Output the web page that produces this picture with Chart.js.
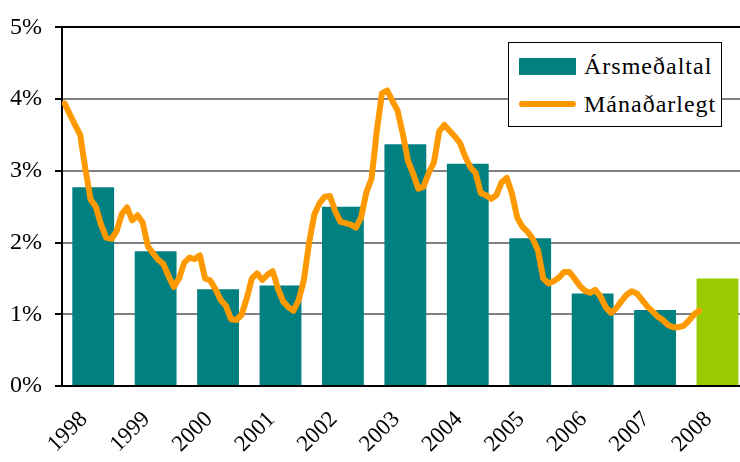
<!DOCTYPE html>
<html>
<head>
<meta charset="utf-8">
<script src="https://cdn.jsdelivr.net/npm/chart.js@4"></script>
<style>
  html, body { margin: 0; padding: 0; background: #fff; overflow: hidden; }
  #wrap { position: relative; width: 749px; height: 462px; }
  #legend {
    position: absolute; left: 508px; top: 42px; width: 212px; height: 83px;
    border: 1px solid #000; background: #fff;
    font-family: 'Liberation Serif', serif; font-size: 24px; letter-spacing: 1px;
  }
  .item { position: absolute; left: 10px; height: 30px; display: flex; align-items: center; }
  .swatch { width: 57px; height: 17px; margin-right: 8px; }
  .dash { width: 57px; height: 6px; border-radius: 3px; margin-right: 8px; }
</style>
</head>
<body>
<div id="wrap">
  <canvas id="chart" width="749" height="462"></canvas>
  <div id="legend">
    <div class="item" style="top:8px"><div class="swatch" style="background:#008080"></div>Ársmeðaltal</div>
    <div class="item" style="top:46px"><div class="dash" style="background:#FF9900"></div>Mánaðarlegt</div>
  </div>
</div>
<script>
// --- data ---
const years = ['1998', '1999', '2000', '2001', '2002', '2003', '2004', '2005', '2006', '2007', '2008'];
const yearlyAvg = [2.77, 1.88, 1.35, 1.40, 2.50, 3.37, 3.10, 2.06, 1.29, 1.06, 1.50];
const barColors = ['#008080', '#008080', '#008080', '#008080', '#008080', '#008080', '#008080', '#008080', '#008080', '#008080', '#99CC00'];
// monthly values, Jan 1998 onwards
const monthly = [
  3.94, 3.79, 3.64, 3.50, 3.02, 2.60, 2.50, 2.25, 2.07, 2.05, 2.16, 2.40,
  2.49, 2.31, 2.38, 2.28, 1.95, 1.85, 1.76, 1.70, 1.53, 1.38, 1.50, 1.72,
  1.79, 1.77, 1.82, 1.50, 1.47, 1.35, 1.20, 1.12, 0.93, 0.92, 0.99, 1.22,
  1.50, 1.57, 1.48, 1.55, 1.60, 1.36, 1.18, 1.10, 1.05, 1.20, 1.48, 2.00,
  2.39, 2.55, 2.64, 2.65, 2.44, 2.29, 2.27, 2.25, 2.21, 2.35, 2.70, 2.89,
  3.55, 4.08, 4.12, 3.98, 3.84, 3.52, 3.14, 2.96, 2.75, 2.78, 2.97, 3.12,
  3.55, 3.64, 3.56, 3.48, 3.39, 3.20, 3.05, 2.97, 2.69, 2.66, 2.61, 2.66,
  2.84, 2.90, 2.68, 2.35, 2.22, 2.15, 2.05, 1.89, 1.50, 1.43, 1.46, 1.51,
  1.59, 1.59, 1.50, 1.40, 1.33, 1.30, 1.34, 1.25, 1.10, 1.02, 1.08, 1.18,
  1.27, 1.32, 1.29, 1.20, 1.11, 1.04, 0.97, 0.92, 0.85, 0.82, 0.82, 0.84,
  0.91, 1.00, 1.05
];
const yTicks = [0, 1, 2, 3, 4, 5];

const serif = "'Liberation Serif', serif";

new Chart(document.getElementById('chart'), {
  data: {
    labels: years,
    datasets: [
      {
        type: 'line',
        label: 'Mánaðarlegt',
        data: monthly.map((v, i) => ({ x: i + 0.5, y: v })),
        xAxisID: 'xm',
        borderColor: '#FF9900',
        borderWidth: 6,
        pointRadius: 0,
        tension: 0,
        borderJoinStyle: 'round',
        borderCapStyle: 'round',
        order: 0
      },
      {
        type: 'bar',
        label: 'Ársmeðaltal',
        data: yearlyAvg,
        backgroundColor: barColors,
        grouped: false,
        categoryPercentage: 1,
        barPercentage: 0.67,
        order: 1
      }
    ]
  },
  options: {
    responsive: false,
    animation: false,
    layout: { padding: { top: 22, right: 0, left: 0, bottom: 0 } },
    plugins: { legend: { display: false }, tooltip: { enabled: false } },
    scales: {
      x: {
        type: 'category',
        afterFit: s => { s.height = 76; },
        grid: { display: false },
        border: { color: '#000', width: 2 },
        ticks: {
          minRotation: 45, maxRotation: 45, padding: 12, labelOffset: -9,
          color: '#000', font: { family: serif, size: 23 }
        }
      },
      xm: {
        type: 'linear', display: false, min: 0, max: years.length * 12
      },
      y: {
        min: 0, max: 5,
        afterFit: s => { s.width = 62; },
        afterBuildTicks: s => { s.ticks = yTicks.map(v => ({ value: v })); },
        border: { color: '#000', width: 2 },
        grid: {
          color: c => (c.tick && (c.tick.value === 5 || c.tick.value === 0)) ? '#000' : '#808080',
          lineWidth: 2,
          tickLength: 7,
          tickColor: '#000'
        },
        ticks: {
          padding: 13, color: '#000',
          font: { family: serif, size: 24 },
          callback: v => v + '%'
        }
      }
    }
  }
});
</script>
</body>
</html>
